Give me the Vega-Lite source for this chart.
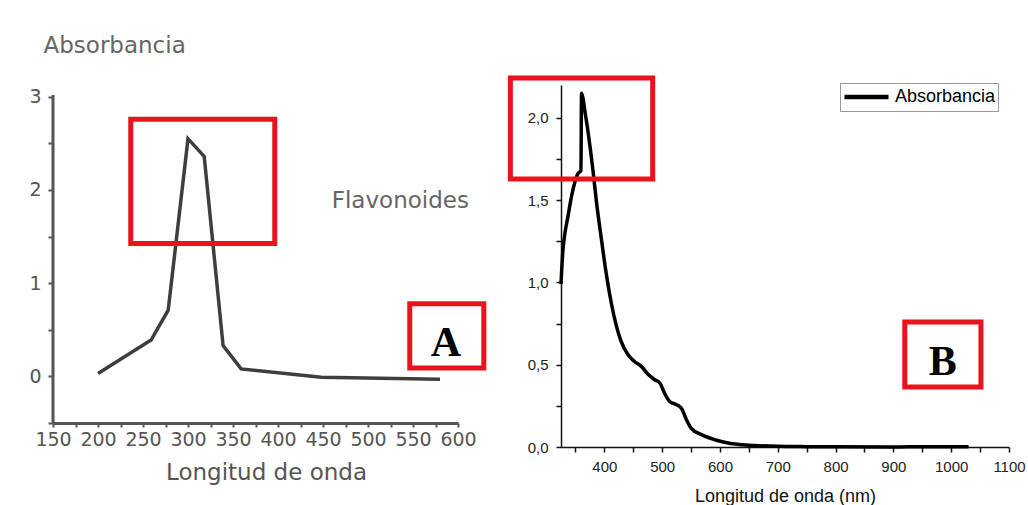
{
  "$schema": "https://vega.github.io/schema/vega-lite/v6.json",
  "background": "white",
  "padding": {"left": 28, "top": 34, "right": 0, "bottom": 0},
  "bounds": "flush",
  "spacing": 103,
  "resolve": {"scale": {"color": "independent"}},
  "config": {"view": {"stroke": null}, "axis": {"grid": false}},
  "datasets": {
    "a": [
      {"nm": 200, "abs": 0.03}, {"nm": 259, "abs": 0.39}, {"nm": 278, "abs": 0.71},
      {"nm": 300, "abs": 2.55}, {"nm": 318, "abs": 2.36}, {"nm": 339, "abs": 0.33},
      {"nm": 359, "abs": 0.08}, {"nm": 448, "abs": -0.01}, {"nm": 580, "abs": -0.03}
    ],
    "b": [
      {"nm": 325, "abs": 0.99}, {"nm": 328, "abs": 1.18}, {"nm": 331, "abs": 1.28},
      {"nm": 337, "abs": 1.40}, {"nm": 343, "abs": 1.52}, {"nm": 349, "abs": 1.61},
      {"nm": 354, "abs": 1.66}, {"nm": 359.5, "abs": 1.68}, {"nm": 360.5, "abs": 2.15},
      {"nm": 363, "abs": 2.12}, {"nm": 366, "abs": 2.05}, {"nm": 372, "abs": 1.91},
      {"nm": 380, "abs": 1.69}, {"nm": 386, "abs": 1.50}, {"nm": 395, "abs": 1.26},
      {"nm": 403, "abs": 1.06}, {"nm": 412, "abs": 0.875}, {"nm": 421, "abs": 0.733},
      {"nm": 429, "abs": 0.642}, {"nm": 441, "abs": 0.561}, {"nm": 452, "abs": 0.52},
      {"nm": 464, "abs": 0.49}, {"nm": 476, "abs": 0.44}, {"nm": 487, "abs": 0.409},
      {"nm": 496, "abs": 0.389}, {"nm": 504, "abs": 0.328}, {"nm": 513, "abs": 0.277},
      {"nm": 525, "abs": 0.257}, {"nm": 533, "abs": 0.237}, {"nm": 542, "abs": 0.166},
      {"nm": 550, "abs": 0.115}, {"nm": 568, "abs": 0.075}, {"nm": 591, "abs": 0.044},
      {"nm": 614, "abs": 0.024}, {"nm": 637, "abs": 0.014}, {"nm": 660, "abs": 0.009},
      {"nm": 700, "abs": 0.004}, {"nm": 750, "abs": 0.002}, {"nm": 800, "abs": 0.001},
      {"nm": 900, "abs": 0.0}, {"nm": 950, "abs": 0.002}, {"nm": 1030, "abs": 0.001}
    ]
  },
  "hconcat": [
    {
      "width": 405,
      "height": 338,
      "layer": [
        {
          "data": {"name": "a"},
          "mark": {"type": "line", "color": "#3e3e3e", "strokeWidth": 3.5},
          "encoding": {
            "x": {
              "field": "nm", "type": "quantitative",
              "scale": {"domain": [150, 600], "nice": false, "zero": false},
              "axis": {
                "title": "Longitud de onda",
                "values": [150, 175, 200, 225, 250, 275, 300, 325, 350, 375, 400, 425, 450, 475, 500, 525, 550, 575, 600],
                "tickCount": 100,
                "labelExpr": "datum.value % 50 == 0 ? format(datum.value, 'd') : ''",
                "labelFont": "DejaVu Sans", "labelFontSize": 19, "labelColor": "#555",
                "labelPadding": 3, "labelFlush": false, "labelOverlap": false,
                "labelDx": 7,
                "domainColor": "#555", "domainWidth": 3,
                "tickColor": "#555", "tickWidth": 2, "tickSize": 4,
                "titleFont": "DejaVu Sans", "titleFontSize": 23, "titleFontWeight": "normal",
                "titleColor": "#555", "titleX": 213, "titleY": 49, "titleBaseline": "middle"
              }
            },
            "y": {
              "field": "abs", "type": "quantitative",
              "scale": {"domain": [-0.5, 3.126], "nice": false, "zero": false},
              "axis": {
                "title": "Absorbancia",
                "values": [-0.5, 0, 0.5, 1, 1.5, 2, 2.5, 3],
                "tickCount": 100,
                "labelExpr": "datum.value % 1 == 0 ? format(datum.value, 'd') : ''",
                "labelFont": "DejaVu Sans", "labelFontSize": 19, "labelColor": "#555",
                "labelPadding": 7,
                "domain": false,
                "tickColor": "#555", "tickWidth": 2, "tickSize": 5,
                "titleFont": "DejaVu Sans", "titleFontSize": 23, "titleFontWeight": "normal",
                "titleColor": "#666", "titleAngle": 0, "titleAlign": "left",
                "titleBaseline": "middle", "titleX": -10, "titleY": -40
              }
            }
          }
        },
        {
          "data": {"values": [{"nm": 150, "abs": -0.5, "abs2": 3.02}]},
          "mark": {"type": "rule", "color": "#555", "strokeWidth": 3},
          "encoding": {
            "x": {"field": "nm", "type": "quantitative"},
            "y": {"field": "abs", "type": "quantitative"},
            "y2": {"field": "abs2"}
          }
        },
        {
          "data": {"values": [
            {"nm": 236.4, "nm2": 396.4, "abs": 2.758, "abs2": 1.425},
            {"nm": 546.4, "nm2": 628.7, "abs": 0.78, "abs2": 0.091}
          ]},
          "mark": {"type": "rect", "fill": "transparent", "stroke": "#e8141c", "strokeWidth": 5},
          "encoding": {
            "x": {"field": "nm", "type": "quantitative"},
            "x2": {"field": "nm2"},
            "y": {"field": "abs", "type": "quantitative"},
            "y2": {"field": "abs2"}
          }
        },
        {
          "data": {"values": [{"nm": 535.9, "abs": 1.88, "txt": "Flavonoides"}]},
          "mark": {"type": "text", "font": "DejaVu Sans", "fontSize": 23, "color": "#666", "align": "center", "baseline": "middle"},
          "encoding": {
            "x": {"field": "nm", "type": "quantitative"},
            "y": {"field": "abs", "type": "quantitative"},
            "text": {"field": "txt"}
          }
        },
        {
          "data": {"values": [{"nm": 586.7, "abs": 0.215, "txt": "A"}]},
          "mark": {"type": "text", "font": "Liberation Serif", "fontWeight": "bold", "fontSize": 42, "color": "black", "align": "center", "baseline": "alphabetic"},
          "encoding": {
            "x": {"field": "nm", "type": "quantitative"},
            "y": {"field": "abs", "type": "quantitative"},
            "text": {"field": "txt"}
          }
        }
      ]
    },
    {
      "width": 448,
      "height": 362,
      "layer": [
        {
          "data": {"name": "b"},
          "mark": {"type": "line", "strokeWidth": 3.5, "interpolate": "monotone"},
          "encoding": {
            "x": {
              "field": "nm", "type": "quantitative",
              "scale": {"domain": [325, 1100], "nice": false, "zero": false},
              "axis": {
                "title": "Longitud de onda (nm)",
                "values": [350, 400, 450, 500, 550, 600, 650, 700, 750, 800, 850, 900, 950, 1000, 1050, 1100],
                "tickCount": 100,
                "labelExpr": "datum.value % 100 == 0 ? format(datum.value, 'd') : ''",
                "labelFont": "Liberation Sans", "labelFontSize": 15, "labelColor": "#222",
                "labelPadding": 7, "labelFlush": false, "labelOverlap": false,
                "domainColor": "#111", "domainWidth": 1.5,
                "tickColor": "#111", "tickWidth": 1.5, "tickSize": 5,
                "titleFont": "Liberation Sans", "titleFontSize": 18, "titleFontWeight": "normal",
                "titleColor": "#111", "titleY": 49, "titleBaseline": "middle"
              }
            },
            "y": {
              "field": "abs", "type": "quantitative",
              "scale": {"domain": [0, 2.2], "nice": false, "zero": false},
              "axis": {
                "title": null,
                "values": [0, 0.25, 0.5, 0.75, 1, 1.25, 1.5, 1.75, 2],
                "tickCount": 100,
                "labelExpr": "datum.value % 0.5 == 0 ? replace(format(datum.value, '.1f'), '.', ',') : ''",
                "labelFont": "Liberation Sans", "labelFontSize": 15, "labelColor": "#222",
                "labelPadding": 8,
                "domainColor": "#111", "domainWidth": 1.5,
                "tickColor": "#111", "tickWidth": 1.5, "tickSize": 5
              }
            },
            "color": {
              "datum": "Absorbancia", "type": "nominal",
              "scale": {"range": ["black"]},
              "legend": {
                "title": null, "orient": "none", "legendX": 279, "legendY": -2,
                "symbolType": "stroke", "symbolSize": 1936, "symbolStrokeWidth": 4.5,
                "clipHeight": 24,
                "labelFont": "Liberation Sans", "labelFontSize": 18, "labelColor": "black",
                "labelOffset": 4, "padding": 2, "strokeColor": "#999",
                "fillColor": "white"
              }
            }
          }
        },
        {
          "data": {"values": [
            {"nm": 237.4, "nm2": 483.6, "abs": 2.242, "abs2": 1.628},
            {"nm": 919.7, "nm2": 1051.5, "abs": 0.759, "abs2": 0.364}
          ]},
          "mark": {"type": "rect", "fill": "transparent", "stroke": "#e8141c", "strokeWidth": 5},
          "encoding": {
            "x": {"field": "nm", "type": "quantitative"},
            "x2": {"field": "nm2"},
            "y": {"field": "abs", "type": "quantitative"},
            "y2": {"field": "abs2"}
          }
        },
        {
          "data": {"values": [{"nm": 985.6, "abs": 0.44, "txt": "B"}]},
          "mark": {"type": "text", "font": "Liberation Serif", "fontWeight": "bold", "fontSize": 42, "color": "black", "align": "center", "baseline": "alphabetic"},
          "encoding": {
            "x": {"field": "nm", "type": "quantitative"},
            "y": {"field": "abs", "type": "quantitative"},
            "text": {"field": "txt"}
          }
        }
      ]
    }
  ]
}
